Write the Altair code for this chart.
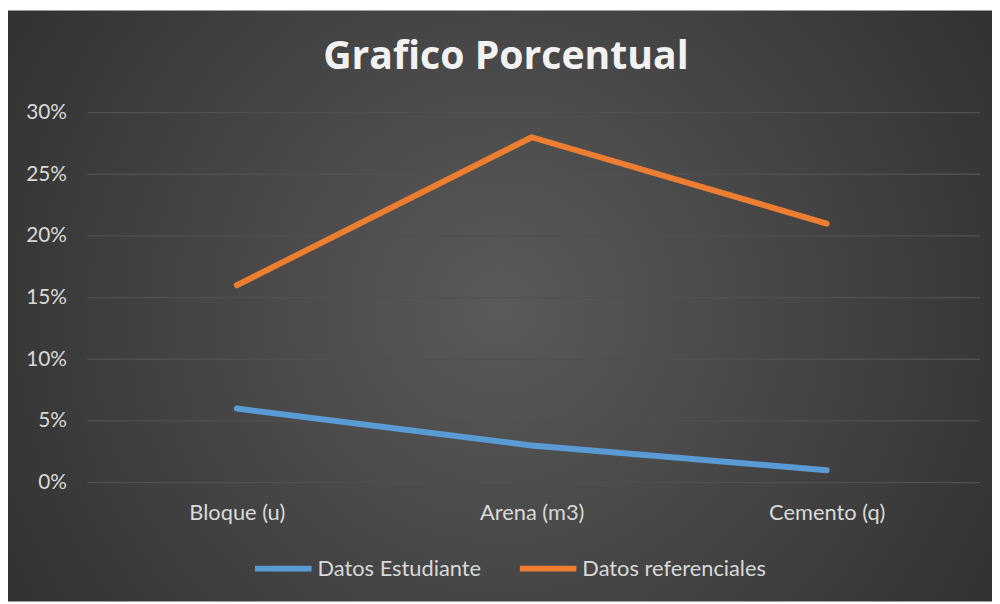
import altair as alt
import pandas as pd

categories = ["Bloque (u)", "Arena (m3)", "Cemento (q)"]
estudiante = [0.06, 0.03, 0.01]
referenciales = [0.16, 0.28, 0.21]
series_names = ["Datos Estudiante", "Datos referenciales"]
series_colors = ["#5B9BD5", "#ED7D31"]
y_ticks = [0, 0.05, 0.10, 0.15, 0.20, 0.25, 0.30]
title_text = "Grafico Porcentual"

rows = []
for c, v in zip(categories, estudiante):
    rows.append({"cat": c, "serie": series_names[0], "val": v})
for c, v in zip(categories, referenciales):
    rows.append({"cat": c, "serie": series_names[1], "val": v})
df = pd.DataFrame(rows)

W, H = 892, 373
PL, PT, PR, PB = 82, 103, 18, 120
FONT = "Lato"
TXT = "#d9d9d9"

yscale = alt.Scale(domain=[0, 0.30], nice=False)

bg = alt.Chart(pd.DataFrame({"a": [0]})).mark_rect(
    fill={
        "gradient": "radial",
        "x1": 0.5, "y1": 0.5, "r1": 0,
        "x2": 0.5, "y2": 0.5, "r2": 0.75,
        "stops": [
            {"offset": 0, "color": "#5a5a5a"},
            {"offset": 1, "color": "#262626"},
        ],
    }
).encode(
    x=alt.value(-PL), x2=alt.value(W + PR),
    y=alt.value(-PT), y2=alt.value(H + PB),
)

grid = alt.Chart(pd.DataFrame({"t": y_ticks})).mark_rule(
    color="#505050", strokeWidth=1.3
).encode(
    y=alt.Y("t:Q", scale=yscale, title=None),
    x=alt.value(-2), x2=alt.value(W + 6),
)

lines = alt.Chart(df).mark_line(strokeWidth=6, strokeCap="round", strokeJoin="round").encode(
    x=alt.X("cat:N", sort=categories, title=None,
            scale=alt.Scale(paddingOuter=0.5, paddingInner=0, padding=0.5),
            axis=alt.Axis(labelAngle=0, domain=False, ticks=False, grid=False,
                          labelColor=TXT, labelFont=FONT, labelFontSize=22,
                          labelPadding=20, zindex=1)),
    y=alt.Y("val:Q", title=None, scale=yscale,
            axis=alt.Axis(format=".0%", values=y_ticks,
                          domain=False, ticks=False, grid=False,
                          labelColor=TXT, labelFont=FONT, labelFontSize=21,
                          labelPadding=23, zindex=1)),
    color=alt.Color("serie:N", scale=alt.Scale(domain=series_names, range=series_colors),
                    legend=alt.Legend(title=None, orient="none", direction="horizontal",
                                      legendX=164, legendY=428,
                                      symbolType="stroke", symbolSize=3249,
                                      symbolStrokeWidth=6,
                                      labelColor=TXT, labelFont=FONT, labelFontSize=22,
                                      labelLimit=500,
                                      labelOffset=3, columnPadding=26)),
)

title = alt.Chart(pd.DataFrame({"t": [title_text]})).mark_text(
    font="Open Sans", fontSize=39.5, fontWeight="bold", color="#f2f2f2",
    align="center", baseline="alphabetic",
).encode(
    text="t:N",
    x=alt.value(420), y=alt.value(-44),
)

chart = alt.layer(bg, grid, lines, title).properties(
    width=W, height=H,
    autosize=alt.AutoSizeParams(type="none"),
    padding={"left": PL, "top": PT, "right": PR, "bottom": PB},
).configure_view(stroke=None).configure(background="white")

chart.save("out.html", embed_options={"renderer": "svg", "actions": False})
